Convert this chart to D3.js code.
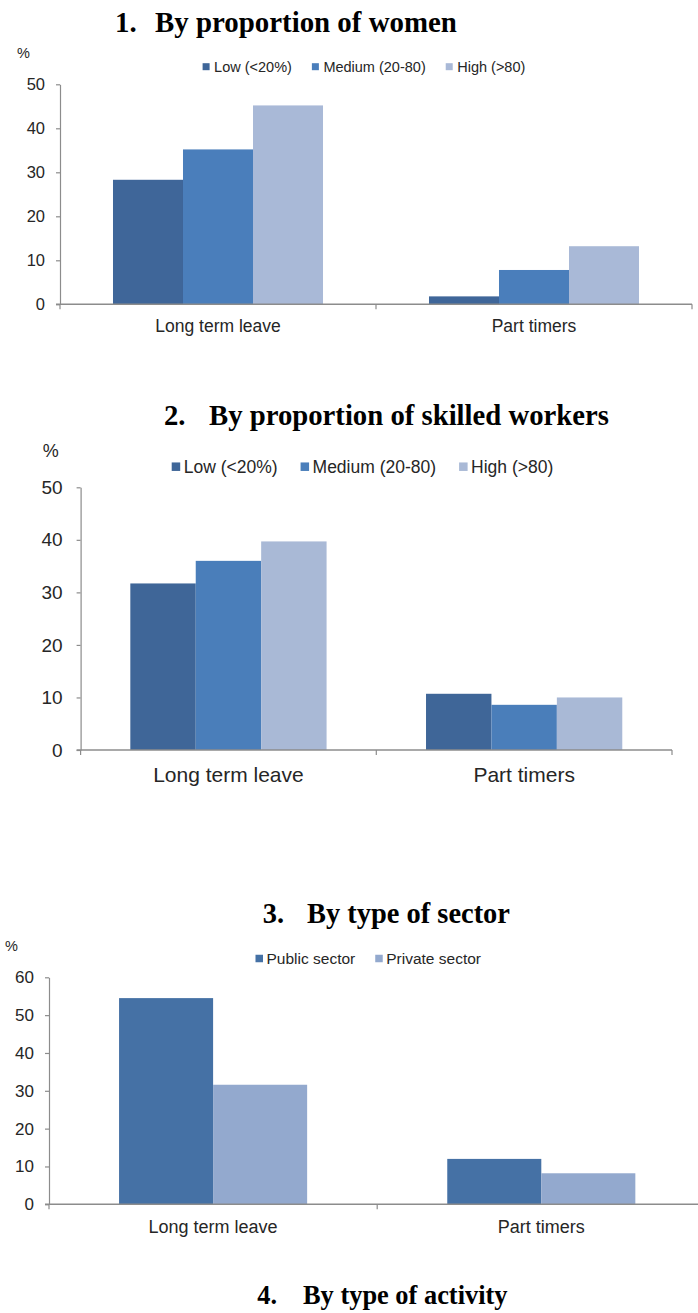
<!DOCTYPE html>
<html>
<head>
<meta charset="utf-8">
<script src="https://cdn.jsdelivr.net/npm/d3@7/dist/d3.min.js"></script>
<style>
  html, body { margin: 0; padding: 0; background: #ffffff; }
  svg { display: block; }
</style>
</head>
<body>
<svg id="chart" width="698" height="1313"></svg>
<script>
// ---------------- DATA ----------------
const categories = ["Long term leave", "Part timers"];

const titleNumbers = ["1.", "2.", "3.", "4."];
const titleTexts = [
  "By proportion of women",
  "By proportion of skilled workers",
  "By type of sector",
  "By type of activity"
];

// Panel 1: by proportion of women
const womenSeries = ["Low (<20%)", "Medium (20-80)", "High (>80)"];
const womenLow = [28.3, 1.8];
const womenMedium = [35.2, 7.8];
const womenHigh = [45.2, 13.2];
const womenTicks = [0, 10, 20, 30, 40, 50];

// Panel 2: by proportion of skilled workers
const skilledSeries = ["Low (<20%)", "Medium (20-80)", "High (>80)"];
const skilledLow = [31.7, 10.7];
const skilledMedium = [36.0, 8.6];
const skilledHigh = [39.7, 10.0];
const skilledTicks = [0, 10, 20, 30, 40, 50];

// Panel 3: by type of sector
const sectorSeries = ["Public sector", "Private sector"];
const sectorPublic = [54.5, 12.0];
const sectorPrivate = [31.6, 8.2];
const sectorTicks = [0, 10, 20, 30, 40, 50, 60];

const unitLabel = "%";

// ---------------- DRAWING ----------------
const svg = d3.select("#chart");
const SANS = "'Liberation Sans', Arial, sans-serif";
const SERIF = "'Liberation Serif', 'Times New Roman', serif";
const AXIS_COLOR = "#8c8c8c";
const TEXT_COLOR = "#262626";

function drawTitle(i, xNum, xText, xEnd, baseline) {
  const g = svg.append("g");
  const t = g.append("text").attr("x", xText).attr("y", baseline)
    .attr("font-family", SERIF).attr("font-weight", "bold").attr("font-size", 28)
    .attr("fill", "#000").text(titleTexts[i]);
  const w = t.node().getComputedTextLength();
  const fs = 28 * (xEnd - xText) / w;
  t.attr("font-size", fs);
  g.append("text").attr("x", xNum).attr("y", baseline)
    .attr("font-family", SERIF).attr("font-weight", "bold").attr("font-size", fs)
    .attr("fill", "#000").text(titleNumbers[i]);
}

function drawPanel(cfg) {
  const g = svg.append("g");
  const y = d3.scaleLinear().domain(cfg.domain).range([cfg.yBottom, cfg.yTop]);
  const x0 = d3.scaleBand().domain(categories).range([cfg.xLeft, cfg.xRight]).paddingInner(0).paddingOuter(0);
  const x1 = d3.scaleBand().domain(cfg.series).range([0, x0.bandwidth()]).paddingInner(0).paddingOuter(cfg.outerPad);
  const color = d3.scaleOrdinal().domain(cfg.series).range(cfg.colors);

  // bars
  const rows = categories.map((c, ci) => ({
    cat: c,
    vals: cfg.series.map((s, si) => ({ key: s, value: cfg.values[si][ci] }))
  }));
  g.selectAll("g.grp").data(rows).join("g")
    .attr("class", "grp")
    .attr("transform", d => `translate(${x0(d.cat)},0)`)
    .selectAll("rect").data(d => d.vals).join("rect")
    .attr("x", d => x1(d.key))
    .attr("width", x1.bandwidth())
    .attr("y", d => y(d.value))
    .attr("height", d => y(0) - y(d.value))
    .attr("fill", d => color(d.key));

  // y axis
  const yAxis = d3.axisLeft(y).tickValues(cfg.ticks).tickSize(4).tickSizeOuter(0).tickPadding(cfg.tickPad);
  const ga = g.append("g").attr("transform", `translate(${cfg.xLeft},0)`).call(yAxis);
  ga.select(".domain").attr("stroke", AXIS_COLOR).attr("stroke-width", 1.2);
  ga.selectAll(".tick line").attr("stroke", AXIS_COLOR).attr("stroke-width", 1.2);
  ga.selectAll(".tick text").attr("font-family", SANS).attr("font-size", cfg.tickFont)
    .attr("fill", TEXT_COLOR);

  // x axis line and boundary ticks
  const gx = g.append("g");
  gx.append("line").attr("x1", cfg.xLeft - 4).attr("x2", cfg.xRight)
    .attr("y1", y(0)).attr("y2", y(0))
    .attr("stroke", AXIS_COLOR).attr("stroke-width", 1.4);
  const bounds = categories.map(c => x0(c)).concat([x0.range()[1]]);
  gx.selectAll("line.bt").data(bounds).join("line").attr("class", "bt")
    .attr("x1", d => d).attr("x2", d => d)
    .attr("y1", y(0)).attr("y2", y(0) + 5)
    .attr("stroke", AXIS_COLOR).attr("stroke-width", 1.2);
  gx.selectAll("text.cat").data(categories).join("text").attr("class", "cat")
    .attr("x", d => x0(d) + x0.bandwidth() / 2)
    .attr("y", cfg.catBaseline)
    .attr("text-anchor", "middle")
    .attr("font-family", SANS).attr("font-size", cfg.catFont)
    .attr("fill", TEXT_COLOR).text(d => d);

  // unit label
  g.append("text").attr("x", cfg.unitX).attr("y", cfg.unitY)
    .attr("font-family", SANS).attr("font-size", cfg.unitFont)
    .attr("fill", TEXT_COLOR).text(unitLabel);

  // legend
  const lg = g.append("g");
  let lx = cfg.legendX;
  cfg.series.forEach((s) => {
    lg.append("rect").attr("x", lx).attr("y", cfg.legendY - cfg.sq / 2)
      .attr("width", cfg.sq).attr("height", cfg.sq).attr("fill", color(s));
    const t = lg.append("text").attr("x", lx + cfg.sq + cfg.sqGap).attr("y", cfg.legendY)
      .attr("dy", "0.35em")
      .attr("font-family", SANS).attr("font-size", cfg.legendFont)
      .attr("fill", TEXT_COLOR).text(s);
    lx = lx + cfg.sq + cfg.sqGap + t.node().getComputedTextLength() + cfg.itemGap;
  });
}

// Panel 1
drawTitle(0, 115, 155, 457, 32);
drawPanel({
  series: womenSeries,
  values: [womenLow, womenMedium, womenHigh],
  colors: ["#3f6699", "#4a7ebb", "#a9b9d7"],
  domain: [0, 50], ticks: womenTicks,
  xLeft: 60, xRight: 692, yBottom: 304.3, yTop: 84.3,
  outerPad: 0.757,
  tickFont: 16.5, tickPad: 11,
  catFont: 17.5, catBaseline: 332,
  unitX: 17, unitY: 58, unitFont: 14.5,
  legendX: 202.6, legendY: 66.7, sq: 7, sqGap: 4.5, itemGap: 20, legendFont: 14.5
});

// Panel 2
drawTitle(1, 164, 209, 609, 425);
drawPanel({
  series: skilledSeries,
  values: [skilledLow, skilledMedium, skilledHigh],
  colors: ["#3f6698", "#4a7eba", "#a9b9d6"],
  domain: [0, 50], ticks: skilledTicks,
  xLeft: 80.6, xRight: 672, yBottom: 750, yTop: 487.3,
  outerPad: 0.76,
  tickFont: 19, tickPad: 14,
  catFont: 21, catBaseline: 782,
  unitX: 42.7, unitY: 457, unitFont: 18,
  legendX: 171.7, legendY: 466.7, sq: 8.5, sqGap: 3.5, itemGap: 23, legendFont: 17.5
});

// Panel 3
drawTitle(2, 262.7, 307, 510, 922.7);
drawPanel({
  series: sectorSeries,
  values: [sectorPublic, sectorPrivate],
  colors: ["#4571a5", "#93a9ce"],
  domain: [0, 60], ticks: sectorTicks,
  xLeft: 49, xRight: 705.4, yBottom: 1204.3, yTop: 977.3,
  outerPad: 0.745,
  tickFont: 17, tickPad: 11,
  catFont: 18, catBaseline: 1233,
  unitX: 5, unitY: 951, unitFont: 14.5,
  legendX: 255.5, legendY: 958.5, sq: 7.5, sqGap: 3.5, itemGap: 20, legendFont: 15.5
});

// Title 4
drawTitle(3, 257.3, 303, 507.6, 1304);
</script>
</body>
</html>
